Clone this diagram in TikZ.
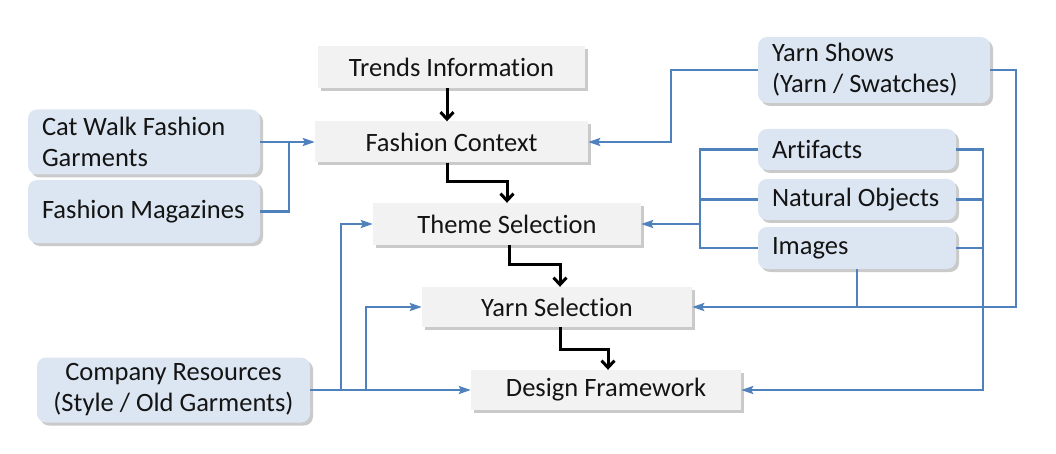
\documentclass[tikz,border=0pt]{standalone}
\usepackage{fontspec}
\setmainfont{Carlito}[RawFeature=-liga]
\usetikzlibrary{arrows.meta,shadows,calc}
\definecolor{bluefill}{HTML}{DCE6F2}
\definecolor{grayfill}{HTML}{F2F2F2}
\definecolor{lineblue}{HTML}{4F81BD}
\definecolor{txt}{HTML}{141414}
\tikzset{
  gbox/.style={fill=grayfill, draw=none, text=txt, font=\fontsize{26.5}{31}\selectfont,
    inner sep=0pt, drop shadow={shadow xshift=3pt, shadow yshift=-3pt, opacity=0.35, fill=black!60}},
  bbox/.style={fill=bluefill, draw=none, rounded corners=9pt, text=txt, font=\fontsize{26.5}{31}\selectfont,
    inner xsep=14pt, inner ysep=0pt, align=flush left,
    drop shadow={shadow xshift=3pt, shadow yshift=-3pt, opacity=0.35, fill=black!60}},
  blk/.style={draw=black, line width=3pt, -{Straight Barb[length=7pt,width=13pt,line width=3pt]}},
  bl/.style={draw=lineblue, line width=2.3pt},
  bla/.style={bl, -{Stealth[length=12pt,width=8pt,inset=2pt]}},
}
\begin{document}
\begin{tikzpicture}[x=1pt,y=-1pt]
\useasboundingbox (0,0) rectangle (1056,454);
% gray process boxes
\node[gbox, minimum width=267pt, minimum height=42pt] (trends) at (451.5,67) {Trends Information};
\node[gbox, minimum width=273pt, minimum height=41pt] (fctx) at (451.5,142) {Fashion Context};
\node[gbox, minimum width=268pt, minimum height=42pt] (theme) at (507,224) {Theme Selection};
\node[gbox, minimum width=270pt, minimum height=40pt] (yarnsel) at (557,307) {Yarn Selection};
\node[gbox, minimum width=270pt, minimum height=40pt] (design) at (606,390) {Design Framework};
% blue input boxes
\node[bbox, text width=204pt, minimum height=65pt] (catwalk) at (144,142) {Cat Walk Fashion\\Garments};
\node[bbox, text width=204pt, minimum height=63pt] (magaz) at (144,211.5) {Fashion Magazines};
\node[bbox, inner xsep=11pt, text width=251pt, minimum height=65pt, align=flush center] (company) at (173.5,390) {Company Resources\\(Style / Old Garments)};
\node[bbox, text width=204pt, minimum height=66pt] (yshows) at (874,70) {Yarn Shows\\(Yarn / Swatches)};
\node[bbox, text width=170pt, minimum height=41pt] (artifacts) at (857,149.5) {Artifacts};
\node[bbox, text width=170pt, minimum height=41pt] (natobj) at (857,199.5) {Natural Objects};
\node[bbox, text width=170pt, minimum height=42pt] (images) at (857,248) {Images};
% junction coordinates
\coordinate (jl) at (289,142);
\coordinate (jt) at (700,224);
\coordinate (jc1) at (341,390);
\coordinate (jc2) at (366,390);
% black process flow
\draw[blk] ([xshift=-4.5pt]trends.south) -- ([xshift=-4.5pt]fctx.north);
\draw[blk] ([xshift=-4.5pt]fctx.south) -- ++(0,19) -| (theme.north);
\draw[blk] ([xshift=2pt]theme.south) -- ++(0,19) -| ([xshift=3pt]yarnsel.north);
\draw[blk] ([xshift=3pt]yarnsel.south) -- ++(0,22) -| ([xshift=2pt]design.north);
% blue inputs
\draw[bla] (catwalk.east) -- (fctx.west);
\draw[bl] (magaz.east) -| (jl);
\draw[bla] (yshows.west) -- ++(-87,0) |- (fctx.east);
\draw[bla] (yshows.east) -- ++(26,0) |- (yarnsel.east);
\draw[bl] (artifacts.west) -- ++(-58,0) |- (images.west);
\draw[bl] (natobj.west) -- ++(-58,0);
\draw[bla] (jt) -- (theme.east);
\draw[bla] (artifacts.east) -- ++(27,0) |- (design.east);
\draw[bl] (natobj.east) -- ++(27,0);
\draw[bl] (images.east) -- ++(27,0);
\draw[bl] (images.south) -- (images.south |- yarnsel.east);
\draw[bla] (company.east) -- (design.west);
\draw[bla] (jc1) |- (theme.west);
\draw[bla] (jc2) |- (yarnsel.west);
\end{tikzpicture}
\end{document}
